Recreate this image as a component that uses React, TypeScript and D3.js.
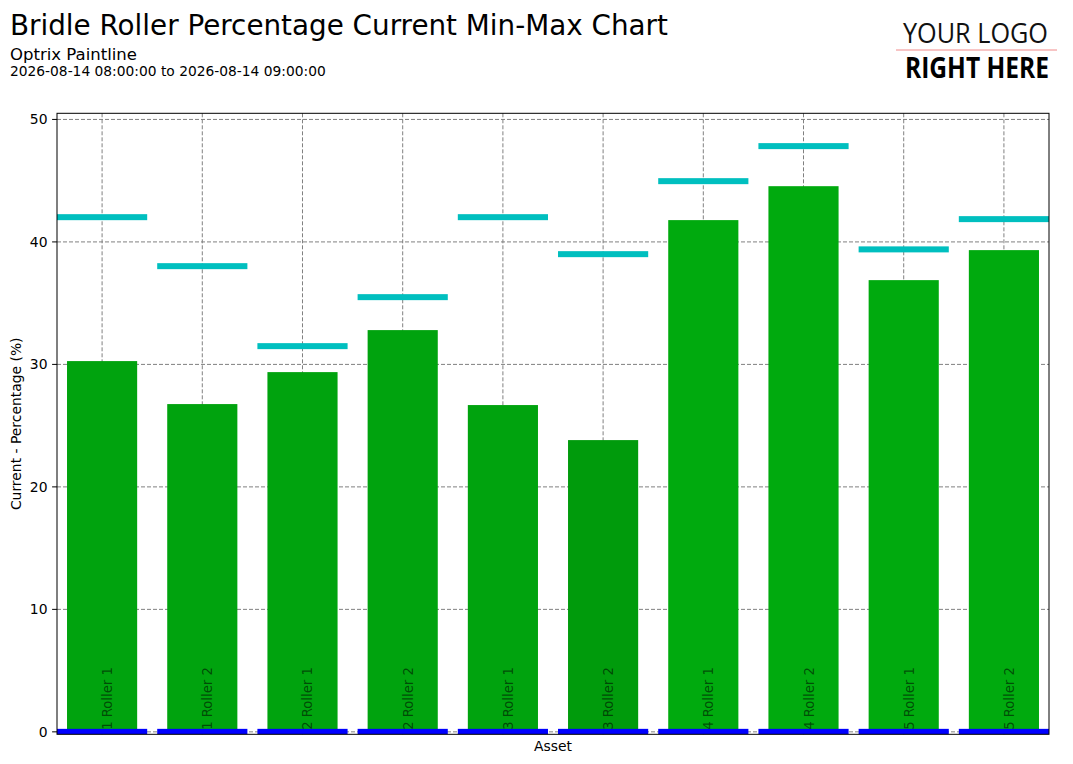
import React from "react";
import * as d3 from "d3";

const categories = [
  "1 Roller 1",
  "1 Roller 2",
  "2 Roller 1",
  "2 Roller 2",
  "3 Roller 1",
  "3 Roller 2",
  "4 Roller 1",
  "4 Roller 2",
  "5 Roller 1",
  "5 Roller 2",
];
const currentValues = [30.27, 26.76, 29.37, 32.8, 26.68, 23.82, 41.78, 44.55, 36.88, 39.33];
const maxValues = [42.02, 38.02, 31.49, 35.49, 42.02, 39.0, 44.96, 47.82, 39.39, 41.86];
const minValues = [0, 0, 0, 0, 0, 0, 0, 0, 0, 0];
const barColors = [
  "#00a30e", "#00a30e", "#00a30e", "#00a30e", "#00a30e",
  "#009b0c", "#00aa0e", "#00aa0e", "#00aa0e", "#00aa0e",
];
const yTicks = [0, 10, 20, 30, 40, 50];

const W = 1073;
const H = 764;
const FONT = "'DejaVu Sans', sans-serif";

export default function App() {
  const left = 57, right = 1049, top = 113.3, bottom = 734.3;
  const x = d3.scaleLinear().domain([-0.45, categories.length - 0.55]).range([left, right]);
  const y = d3.scaleLinear().domain([-0.2, 50.5]).range([bottom, top]);
  const barW = x(0.7) - x(0);
  const markW = x(0.9) - x(0);
  const markH = 6;

  return (
    <svg
      width={W}
      height={H}
      style={{ position: "absolute", left: 0, top: 0, background: "#fff" }}
      fontFamily={FONT}
    >
      <rect x={0} y={0} width={W} height={H} fill="#fff" />

      {/* Titles */}
      <text x={10} y={35} fontSize={27.8} fill="#000">Bridle Roller Percentage Current Min-Max Chart</text>
      <text x={10} y={60} fontSize={16.5} fill="#000">Optrix Paintline</text>
      <text x={10} y={76} fontSize={13.8} fill="#000">2026-08-14 08:00:00 to 2026-08-14 09:00:00</text>

      {/* Logo */}
      <text x={903} y={43} fontSize={28} fontFamily="'Open Sans', sans-serif" fontWeight={400}
        textLength={145} lengthAdjust="spacingAndGlyphs" fill="#111">YOUR LOGO</text>
      <line x1={896} x2={1057} y1={50} y2={50} stroke="#f08a8a" strokeWidth={1} />
      <text x={905} y={78} fontSize={28} fontFamily="'Open Sans', sans-serif" fontWeight={700}
        textLength={144} lengthAdjust="spacingAndGlyphs" fill="#000">RIGHT HERE</text>

      {/* Grid */}
      <g stroke="#808080" strokeWidth={1} strokeDasharray="4,2" fill="none">
        {yTicks.map((t) => (
          <line key={"gy" + t} x1={left} x2={right} y1={y(t)} y2={y(t)} />
        ))}
        {categories.map((c, i) => (
          <line key={"gx" + i} x1={x(i)} x2={x(i)} y1={top} y2={bottom} />
        ))}
      </g>

      {/* Bars */}
      {currentValues.map((v, i) => (
        <rect key={"b" + i} x={x(i) - barW / 2} y={y(v)} width={barW} height={y(0) - y(v)} fill={barColors[i]} />
      ))}
      {/* Category labels */}
      {categories.map((c, i) => (
        <text
          key={"l" + i}
          transform={`translate(${x(i) + 10},${y(0) - 2}) rotate(-90)`}
          textAnchor="start"
          fontSize={13.2}
          fill="#000"
          fillOpacity={0.55}
        >
          {c}
        </text>
      ))}
      {/* Max markers */}
      {maxValues.map((v, i) => (
        <rect key={"mx" + i} x={x(i) - markW / 2} y={y(v) - markH / 2} width={markW} height={markH} fill="#00bfbf" />
      ))}
      {/* Min markers */}
      {minValues.map((v, i) => (
        <rect key={"mn" + i} x={x(i) - markW / 2} y={y(v) - markH / 2} width={markW} height={Math.min(markH, bottom - (y(v) - markH / 2))} fill="#0000ff" />
      ))}

      {/* Frame */}
      <rect x={left} y={top} width={right - left} height={bottom - top} fill="none" stroke="#000" strokeWidth={1} />

      {/* Y axis ticks */}
      {yTicks.map((t) => (
        <g key={"yt" + t}>
          <line x1={left - 4.9} x2={left} y1={y(t)} y2={y(t)} stroke="#000" strokeWidth={1} />
          <text x={left - 9.5} y={y(t)} dy="0.35em" textAnchor="end" fontSize={13.9} fill="#000">{t}</text>
        </g>
      ))}

      {/* Axis labels */}
      <text transform={`translate(20.5,${(top + bottom) / 2}) rotate(-90)`} textAnchor="middle" fontSize={13.9} fill="#000">
        Current - Percentage (%)
      </text>
      <text x={(left + right) / 2} y={751} textAnchor="middle" fontSize={13.9} fill="#000">Asset</text>
    </svg>
  );
}
